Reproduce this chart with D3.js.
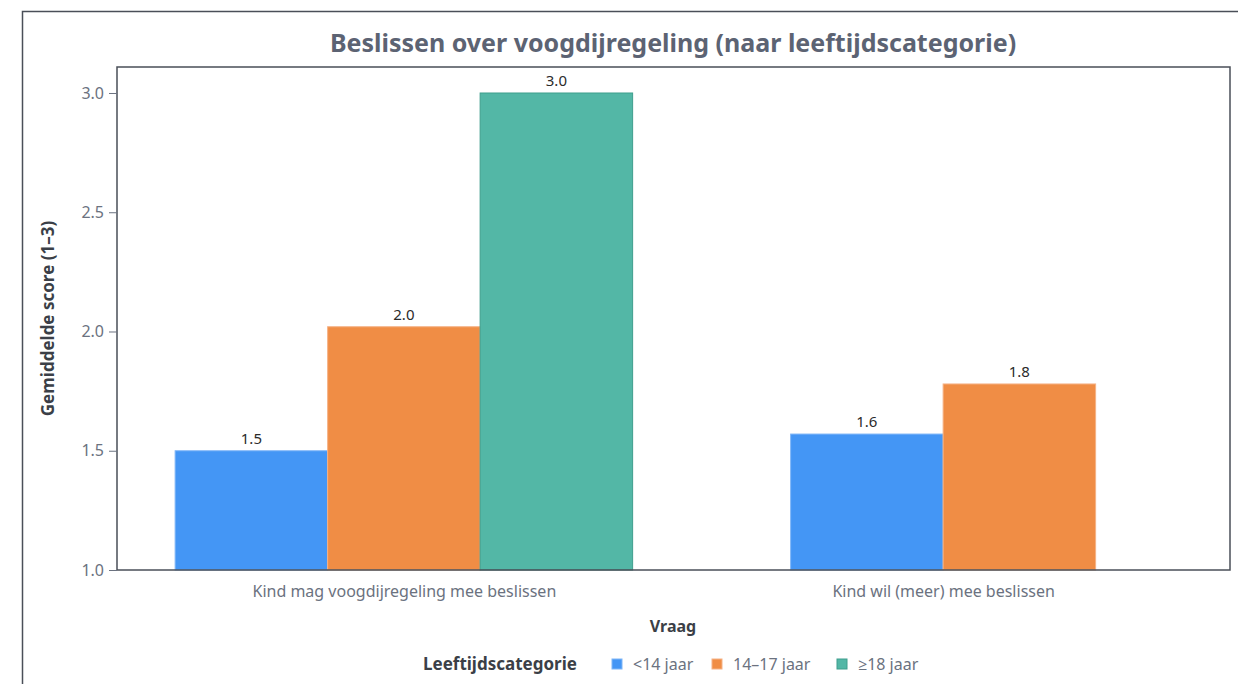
<!DOCTYPE html>
<html>
<head>
<meta charset="utf-8">
<script src="https://cdn.jsdelivr.net/npm/d3@7"></script>
<style>
  body { margin: 0; background: #fff; }
  svg { display: block; font-family: "Noto Sans", "Open Sans", sans-serif; }
</style>
</head>
<body>
<svg id="chart" width="1238" height="684"></svg>
<script>
// data
var questions = ["Kind mag voogdijregeling mee beslissen", "Kind wil (meer) mee beslissen"];
var ageGroups = ["<14 jaar", "14–17 jaar", "≥18 jaar"];
var scoreYoung = [1.50, 1.57];   // <14 jaar
var scoreTeen = [2.02, 1.78];    // 14–17 jaar
var scoreAdult = [3.00, null];   // ≥18 jaar (geen waarde bij vraag 2)
var yTicks = [1.0, 1.5, 2.0, 2.5, 3.0];

var colors = ["#4496f5", "#f08d45", "#53b7a6"];
var strokes = ["#7fb6f7", "#f5b286", "#3f9e8d"];

var svg = d3.select("#chart"),
    width = 1238,
    height = 684,
    margin = {top: 67, right: 8, bottom: 114, left: 117};

// outer frame
svg.append("path")
   .attr("d", "M22.5,684 V11.5 H1238")
   .attr("fill", "none")
   .attr("stroke", "#4a4f58")
   .attr("stroke-width", 1.5);

var x = d3.scalePoint()
    .domain(questions)
    .range([margin.left, width - margin.right])
    .padding(0.532);

var y = d3.scaleLinear()
    .domain([1, 3.109])
    .range([height - margin.bottom, margin.top]);

var barW = 152.5;
var series = [scoreYoung, scoreTeen, scoreAdult];

// bars: per vraag alleen de aanwezige groepen, gecentreerd
var bars = [];
questions.forEach(function(q, qi) {
  var present = [];
  series.forEach(function(s, si) { if (s[qi] != null) present.push(si); });
  present.forEach(function(si, k) {
    bars.push({q: q, si: si, v: series[si][qi], k: k, n: present.length});
  });
});

svg.selectAll("rect.bar")
   .data(bars)
   .enter()
   .append("rect")
   .attr("class", "bar")
   .attr("x", function(d) { return x(d.q) - d.n * barW / 2 + d.k * barW; })
   .attr("y", function(d) { return y(d.v); })
   .attr("width", barW)
   .attr("height", function(d) { return y(1) - y(d.v); })
   .attr("fill", function(d) { return colors[d.si]; })
   .attr("stroke", function(d) { return strokes[d.si]; })
   .attr("stroke-width", 1);

svg.selectAll("text.val")
   .data(bars)
   .enter()
   .append("text")
   .attr("class", "val")
   .attr("x", function(d) { return x(d.q) - d.n * barW / 2 + d.k * barW + barW / 2; })
   .attr("y", function(d) { return y(d.v) - 7; })
   .attr("text-anchor", "middle")
   .attr("font-size", 15)
   .attr("fill", "#2b2b2b")
   .text(function(d) { return d.v.toFixed(1); });

// plot frame
svg.append("rect")
   .attr("x", margin.left)
   .attr("y", margin.top)
   .attr("width", width - margin.left - margin.right)
   .attr("height", height - margin.top - margin.bottom)
   .attr("fill", "none")
   .attr("stroke", "#4a4f58")
   .attr("stroke-width", 1.5);

// y axis
var yAxis = svg.append("g")
   .attr("transform", "translate(" + margin.left + ",0)")
   .call(d3.axisLeft(y).tickValues(yTicks).tickFormat(d3.format(".1f")).tickSize(8).tickPadding(5));
yAxis.select(".domain").remove();
yAxis.selectAll("line").attr("stroke", "#6b7280");
yAxis.selectAll("text").attr("font-size", 16).attr("fill", "#6b7280").attr("font-family", "Noto Sans");

// x axis labels
var xAxis = svg.append("g")
   .attr("transform", "translate(0," + (height - margin.bottom) + ")")
   .call(d3.axisBottom(x).tickSize(0).tickPadding(16));
xAxis.select(".domain").remove();
xAxis.selectAll("text").attr("font-size", 16).attr("fill", "#6b7280").attr("font-family", "Noto Sans");

// titles
svg.append("text")
   .attr("x", 673)
   .attr("y", 52)
   .attr("text-anchor", "middle")
   .attr("font-size", 25)
   .attr("font-weight", 700)
   .attr("fill", "#5c6373")
   .text("Beslissen over voogdijregeling (naar leeftijdscategorie)");

svg.append("text")
   .attr("transform", "translate(54," + ((margin.top + height - margin.bottom) / 2) + ") rotate(-90)")
   .attr("text-anchor", "middle")
   .attr("font-size", 17)
   .attr("font-weight", 700)
   .attr("fill", "#3b3f47")
   .text("Gemiddelde score (1–3)");

svg.append("text")
   .attr("x", 673)
   .attr("y", 632)
   .attr("text-anchor", "middle")
   .attr("font-size", 16)
   .attr("font-weight", 700)
   .attr("fill", "#3b3f47")
   .text("Vraag");

// legend
var legend = svg.append("g").attr("transform", "translate(0,664)");
legend.append("text")
   .attr("x", 423)
   .attr("y", 6)
   .attr("font-size", 17)
   .attr("font-weight", 700)
   .attr("fill", "#3b3f47")
   .text("Leeftijdscategorie");

var legX = [612, 712, 837];
var items = legend.selectAll("g.item")
   .data(ageGroups)
   .enter()
   .append("g")
   .attr("class", "item")
   .attr("transform", function(d, i) { return "translate(" + legX[i] + ",0)"; });
items.append("rect")
   .attr("x", 0)
   .attr("y", -5)
   .attr("width", 10)
   .attr("height", 10)
   .attr("fill", function(d, i) { return colors[i]; })
   .attr("stroke", function(d, i) { return strokes[i]; });
items.append("text")
   .attr("x", 21)
   .attr("y", 6)
   .attr("font-size", 16)
   .attr("fill", "#6b7280")
   .text(function(d) { return d; });
</script>
</body>
</html>
